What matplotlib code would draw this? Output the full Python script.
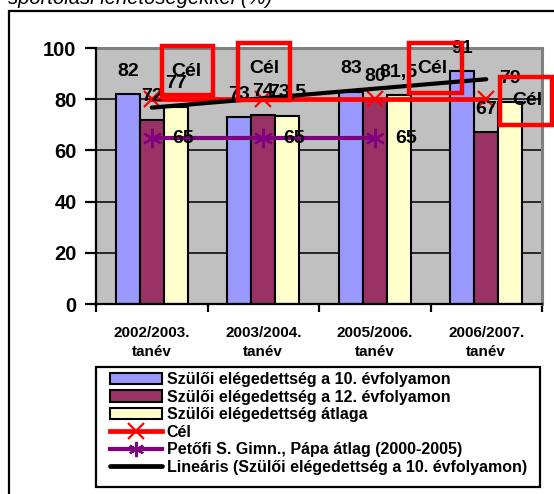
import numpy as np
import matplotlib
matplotlib.use("Agg")
import matplotlib.pyplot as plt
from matplotlib.patches import Patch, Rectangle
from matplotlib.lines import Line2D
from matplotlib.transforms import IdentityTransform, ScaledTranslation

# ---------------- data ----------------
categories = ["2002/2003.\ntanév", "2003/2004.\ntanév", "2005/2006.\ntanév", "2006/2007.\ntanév"]
grade10 = [82, 73, 83, 91]
grade12 = [72, 74, 80, 67]
average = [77, 73.5, 81.5, 79]
target = [80, 80, 80, 80]
school_avg = [65, 65, 65]          # only first three years
y_ticks = [0, 20, 40, 60, 80, 100]

series_names = ["Szülői elégedettség a 10. évfolyamon",
                "Szülői elégedettség a 12. évfolyamon",
                "Szülői elégedettség átlaga",
                "Cél",
                "Petőfi S. Gimn., Pápa átlag (2000-2005)",
                "Lineáris (Szülői elégedettség a 10. évfolyamon)"]
title_text = "sportolási lehetőségekkel (%)"

# ---------------- style ----------------
W, H, DPI = 554, 494, 100
C_BLUE, C_MAROON, C_YELLOW = "#9999FF", "#993366", "#FFFFCC"
C_RED, C_PURPLE = "#FF0000", "#800080"
FONT = "Liberation Sans"
PT = 72.0 / DPI  # px -> pt

plt.rcParams["font.family"] = [FONT, "DejaVu Sans"]

fig = plt.figure(figsize=(W / DPI, H / DPI), dpi=DPI)

def fx(px):
    return px / W

def fy(py):
    return (H - py) / H

# outer chart frame (extends beyond the picture on right/bottom)
fig.patches.append(Rectangle((fx(9), fy(H + 20)), 1.2, fy(11) - fy(H + 20),
                             transform=fig.transFigure, fill=False,
                             edgecolor="black", linewidth=1.6, zorder=0))

# title fragment (cut off at the top)
fig.text(fx(8), fy(4), title_text, fontsize=14.6, fontstyle="italic",
         va="baseline", ha="left", family=[FONT])

# plot area
left, right, top, bottom = 96, 542, 48, 304
ax = fig.add_axes([fx(left), fy(bottom), fx(right) - fx(left), fy(top) - fy(bottom)])
ax.set_facecolor("#C0C0C0")
x = np.arange(len(categories))
ax.set_xlim(-0.5, len(categories) - 0.5)
ax.set_ylim(0, 100)
ax.set_autoscale_on(False)

# gridlines
for yv in y_ticks[1:-1]:
    ax.axhline(yv, color="black", linewidth=1.1, zorder=1)

bw = 0.215
bars = [(grade10, C_BLUE, -bw), (grade12, C_MAROON, 0.0), (average, C_YELLOW, bw)]
for vals, col, off in bars:
    ax.bar(x + off, vals, width=bw, color=col, edgecolor="black",
           linewidth=1.5, zorder=2)

def fmt(v):
    s = f"{v:g}"
    return s.replace(".", ",")

# bar data labels
for vals, col, off in bars:
    for xi, v in zip(x, vals):
        ax.annotate(fmt(v), (xi + off, v), xytext=(0, 23 * PT),
                    textcoords="offset points", ha="center", va="center",
                    fontsize=14, fontweight="bold", zorder=6,
                    annotation_clip=False)

# target line
ax.plot(x, target, color=C_RED, linewidth=3.4, marker="x", markersize=12,
        markeredgewidth=1.6, zorder=4, clip_on=False)

# school average line
xs = x[:len(school_avg)]
ax.plot(xs, school_avg, color=C_PURPLE, linewidth=3.0, marker=(6, 2, 0),
        markersize=14, markeredgewidth=1.6, zorder=4)
for xi, v in zip(xs, school_avg):
    ax.annotate(fmt(v), (xi, v), xytext=(31 * PT, -1 * PT),
                textcoords="offset points", ha="center", va="center",
                fontsize=14, fontweight="bold", zorder=6)

# linear trend of grade10
coef = np.polyfit(x, grade10, 1)
ax.plot(x[[0, -1]], np.polyval(coef, x[[0, -1]]), color="black",
        linewidth=3.0, zorder=5, solid_capstyle="round")

# "Cél" labels (pixel offsets from their points) with red frames
cel_text_offsets_px = [(35, 28), (1, 30.5), (58, 31), (41, -1)]
cel_box_px = [(35.5, 28.5, 51, 49), (1, 27.5, 52, 57), (60.5, 31, 53, 50), (40, -2, 52, 48)]
for xi, v, (dx, dy), (bx, by, bwid, bhei) in zip(x, target, cel_text_offsets_px, cel_box_px):
    ax.annotate("Cél", (xi, v), xytext=(dx * PT, dy * PT),
                textcoords="offset points", ha="center", va="center",
                fontsize=14, fontweight="bold", zorder=7,
                annotation_clip=False)
    t = IdentityTransform() + ScaledTranslation(xi, v, ax.transData)
    ax.add_patch(Rectangle((bx - bwid / 2, by - bhei / 2), bwid, bhei,
                           transform=t, fill=False, edgecolor=C_RED,
                           linewidth=3.2, zorder=8, clip_on=False))

# axes styling
for s in ["left", "bottom"]:
    ax.spines[s].set_color("black")
    ax.spines[s].set_linewidth(1.6)
    ax.spines[s].set_zorder(3)
for s in ["top", "right"]:
    ax.spines[s].set_color("#808080")
    ax.spines[s].set_linewidth(2.2)

ax.set_yticks(y_ticks)
ax.set_yticklabels([str(t) for t in y_ticks], fontsize=14.5, fontweight="bold")
ax.tick_params(axis="y", direction="out", length=8, width=1.6, pad=6)

ax.set_xticks(x)
ax.set_xticklabels(categories, fontsize=11, fontweight="bold", linespacing=1.45)
ax.tick_params(axis="x", which="major", length=0, pad=16)
ax.set_xticks(np.arange(-0.5, len(categories), 1.0), minor=True)
ax.tick_params(axis="x", which="minor", direction="out", length=6, width=1.6)

# legend
handles = [
    Patch(facecolor=C_BLUE, edgecolor="black", linewidth=1.5),
    Patch(facecolor=C_MAROON, edgecolor="black", linewidth=1.5),
    Patch(facecolor=C_YELLOW, edgecolor="black", linewidth=1.5),
    Line2D([], [], color=C_RED, linewidth=3.4, marker="x", markersize=11,
           markeredgewidth=1.6),
    Line2D([], [], color=C_PURPLE, linewidth=3.0, marker=(6, 2, 0),
           markersize=11, markeredgewidth=1.6),
    Line2D([], [], color="black", linewidth=3.4, solid_capstyle="round"),
]
lx0, lx1, ly0, ly1 = 96, 540, 367, 487
fig.patches.append(Rectangle((fx(lx0), fy(ly1)), fx(lx1) - fx(lx0), fy(ly0) - fy(ly1),
                             transform=fig.transFigure, facecolor="white",
                             edgecolor="black", linewidth=1.6, zorder=1))
leg = fig.legend(handles, series_names, loc="upper left",
                 bbox_to_anchor=(fx(110), fy(372)),
                 borderaxespad=0, frameon=False, borderpad=0,
                 prop=dict(family=FONT, weight="bold", size=11.5),
                 handlelength=3.25, handleheight=0.75, handletextpad=0.3,
                 labelspacing=0.16)

fig.savefig("out.png", dpi=DPI)
